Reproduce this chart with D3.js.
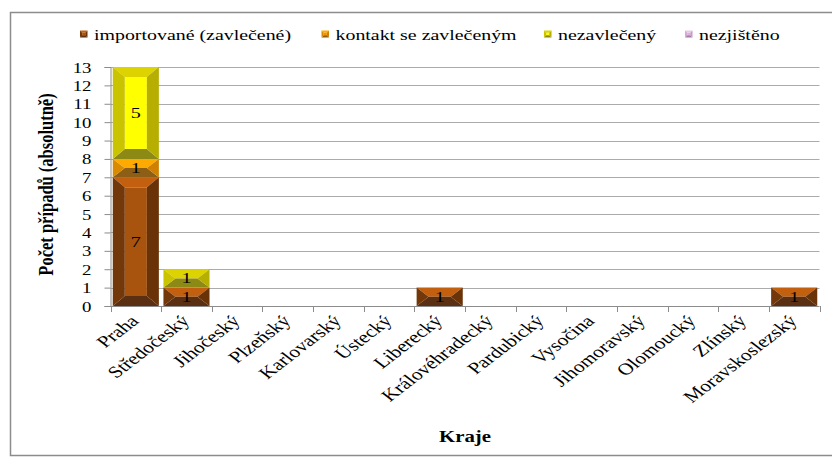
<!DOCTYPE html>
<html>
<head>
<meta charset="utf-8">
<script src="https://cdn.jsdelivr.net/npm/d3@7"></script>
<style>
  html, body { margin: 0; padding: 0; background: #fff; }
  svg { display: block; }
  svg text { font-family: "Liberation Serif", "Times New Roman", Times, "DejaVu Serif", serif !important; fill: #000; }
</style>
</head>
<body>
<svg id="chart" width="832" height="460"></svg>
<script>
// Kraje (regions)
const kraje = ["Praha", "Středočeský", "Jihočeský", "Plzeňský", "Karlovarský", "Ústecký",
  "Liberecký", "Královéhradecký", "Pardubický", "Vysočina", "Jihomoravský", "Olomoucký",
  "Zlínský", "Moravskoslezský"];

// Case counts per region, by source of infection
const importovane = [7, 1, 0, 0, 0, 0, 1, 0, 0, 0, 0, 0, 0, 1];
const kontakt     = [1, 0, 0, 0, 0, 0, 0, 0, 0, 0, 0, 0, 0, 0];
const nezavleceny = [5, 1, 0, 0, 0, 0, 0, 0, 0, 0, 0, 0, 0, 0];
const nezjisteno  = [0, 0, 0, 0, 0, 0, 0, 0, 0, 0, 0, 0, 0, 0];

const seriesNames = ["importované (zavlečené)", "kontakt se zavlečeným", "nezavlečený", "nezjištěno"];
const yTicks = [0, 1, 2, 3, 4, 5, 6, 7, 8, 9, 10, 11, 12, 13];

// Bevel face colours per series: top, left, right, bottom, centre
const palettes = [
  { top: "#C2600F", left: "#72380A", right: "#6A3307", bottom: "#5A2F12", center: "#A8530E" },
  { top: "#FFAA00", left: "#DA8A00", right: "#CF8000", bottom: "#8C5E16", center: "#F29200" },
  { top: "#DCD300", left: "#CAC300", right: "#B6AE00", bottom: "#8C8A14", center: "#FFFF00" },
  { top: "#E8C8E8", left: "#D6A8D6", right: "#C89AC8", bottom: "#A87CA8", center: "#DDB2DD" }
];

const table = kraje.map((k, i) => ({
  kraj: k,
  s0: importovane[i], s1: kontakt[i], s2: nezavleceny[i], s3: nezjisteno[i]
}));
const keys = ["s0", "s1", "s2", "s3"];

const svg = d3.select("#chart");
const SX = 1.3; // horizontal text stretch
const FONT = "'Liberation Serif', 'Times New Roman', Times, 'DejaVu Serif', serif";

// outer frame
svg.append("rect")
  .attr("x", 10.5).attr("y", 12.5).attr("width", 840).attr("height", 443)
  .attr("fill", "none").attr("stroke", "#8C8C8C").attr("stroke-width", 1.5);

const plot = { left: 110.5, right: 819.5, top: 67, bottom: 306 };

const x = d3.scaleBand().domain(kraje).range([plot.left, plot.right]).paddingInner(0.09).paddingOuter(0.045);
const xOuter = d3.scaleBand().domain(kraje).range([plot.left, plot.right]).padding(0);
const y = d3.scaleLinear().domain([0, 13]).range([plot.bottom, plot.top]);

// gridlines
svg.append("g").selectAll("line").data(yTicks.filter(t => t > 0)).join("line")
  .attr("x1", plot.left).attr("x2", plot.right)
  .attr("y1", d => Math.round(y(d)) + 0.5).attr("y2", d => Math.round(y(d)) + 0.5)
  .attr("stroke", "#ABABAB").attr("stroke-width", 1);

// y axis
const yAxis = svg.append("g").attr("transform", `translate(${plot.left},0)`)
  .call(d3.axisLeft(y).tickValues(yTicks).tickSize(6).tickPadding(13).tickFormat(d3.format("d")));
yAxis.attr("font-family", FONT);
yAxis.select(".domain").attr("stroke", "#8C8C8C");
yAxis.selectAll(".tick line").attr("stroke", "#8C8C8C");
yAxis.selectAll(".tick text")
  .attr("font-size", 14.5)
  .attr("fill", "#000")
  .attr("x", null).attr("dy", null)
  .attr("text-anchor", "end")
  .attr("transform", `translate(-19,5) scale(${SX},1)`);

// x axis baseline and category boundary ticks
svg.append("line")
  .attr("x1", plot.left).attr("x2", plot.right)
  .attr("y1", plot.bottom + 0.5).attr("y2", plot.bottom + 0.5)
  .attr("stroke", "#8C8C8C");
const bounds = kraje.map(k => xOuter(k)).concat([plot.right]);
svg.append("g").selectAll("line").data(bounds).join("line")
  .attr("x1", d => Math.round(d) + 0.5).attr("x2", d => Math.round(d) + 0.5)
  .attr("y1", plot.bottom).attr("y2", plot.bottom + 6)
  .attr("stroke", "#8C8C8C");

// category labels, slanted
svg.append("g").attr("font-family", FONT).selectAll("text").data(kraje).join("text")
  .attr("transform", d => `translate(${xOuter(d) + xOuter.bandwidth() / 2 + 4},${plot.bottom + 16}) scale(${SX},1) rotate(-45)`)
  .attr("text-anchor", "end")
  .attr("font-size", 16.5)
  .text(d => d);

// bevelled box faces
function bevel(g, x0, x1, y0, y1, pal, bxMax, byMax) {
  const w = x1 - x0, h = y1 - y0;
  const bx = Math.min(bxMax, w / 2), by = Math.min(byMax, h / 2);
  const pts = a => a.map(p => p.join(",")).join(" ");
  if (w - 2 * bx > 0 && h - 2 * by > 0)
    g.append("rect").attr("x", x0 + bx).attr("y", y0 + by).attr("width", w - 2 * bx).attr("height", h - 2 * by).attr("fill", pal.center);
  g.append("polygon").attr("points", pts([[x0, y0], [x1, y0], [x1 - bx, y0 + by], [x0 + bx, y0 + by]])).attr("fill", pal.top);
  g.append("polygon").attr("points", pts([[x0, y1], [x1, y1], [x1 - bx, y1 - by], [x0 + bx, y1 - by]])).attr("fill", pal.bottom);
  g.append("polygon").attr("points", pts([[x0, y0], [x0 + bx, y0 + by], [x0 + bx, y1 - by], [x0, y1]])).attr("fill", pal.left);
  g.append("polygon").attr("points", pts([[x1, y0], [x1 - bx, y0 + by], [x1 - bx, y1 - by], [x1, y1]])).attr("fill", pal.right);
}

// stacked bars
const stacked = d3.stack().keys(keys)(table);
const barsG = svg.append("g");
stacked.forEach((layer, si) => {
  layer.forEach(seg => {
    const v = seg[1] - seg[0];
    if (v <= 0) return;
    const k = seg.data.kraj;
    const g = barsG.append("g");
    const x0 = x(k), x1 = x(k) + x.bandwidth();
    bevel(g, x0, x1, y(seg[1]), y(seg[0]), palettes[si], 12, 10);
  });
});

// value labels
const labG = svg.append("g").attr("font-family", FONT);
stacked.forEach(layer => {
  layer.forEach(seg => {
    const v = seg[1] - seg[0];
    if (v <= 0) return;
    const k = seg.data.kraj;
    labG.append("text")
      .attr("transform", `translate(${x(k) + x.bandwidth() / 2},${(y(seg[0]) + y(seg[1])) / 2 + 5}) scale(${SX},1)`)
      .attr("text-anchor", "middle")
      .attr("font-size", 15.5)
      .text(v);
  });
});

// axis titles
svg.append("text")
  .attr("font-family", FONT)
  .attr("transform", `translate(53,${(plot.top + plot.bottom) / 2 - 2}) scale(${SX},1) rotate(-90)`)
  .attr("text-anchor", "middle")
  .attr("font-size", 16.5).attr("font-weight", "bold")
  .text("Počet případů (absolutně)");

svg.append("text")
  .attr("font-family", FONT)
  .attr("transform", `translate(${(plot.left + plot.right) / 2},442) scale(${SX},1)`)
  .attr("text-anchor", "middle")
  .attr("font-size", 16).attr("font-weight", "bold")
  .text("Kraje");

// legend
const legendX = [80, 321.5, 544, 685];
const legG = svg.append("g").attr("font-family", FONT);
seriesNames.forEach((name, i) => {
  const g = legG.append("g");
  bevel(g, legendX[i], legendX[i] + 7.5, 30.5, 37.5, palettes[i], 2.2, 2.2);
  g.append("text")
    .attr("transform", `translate(${legendX[i] + 14},39.5) scale(${SX},1)`)
    .attr("font-size", 15.3)
    .text(name);
});
</script>
</body>
</html>
